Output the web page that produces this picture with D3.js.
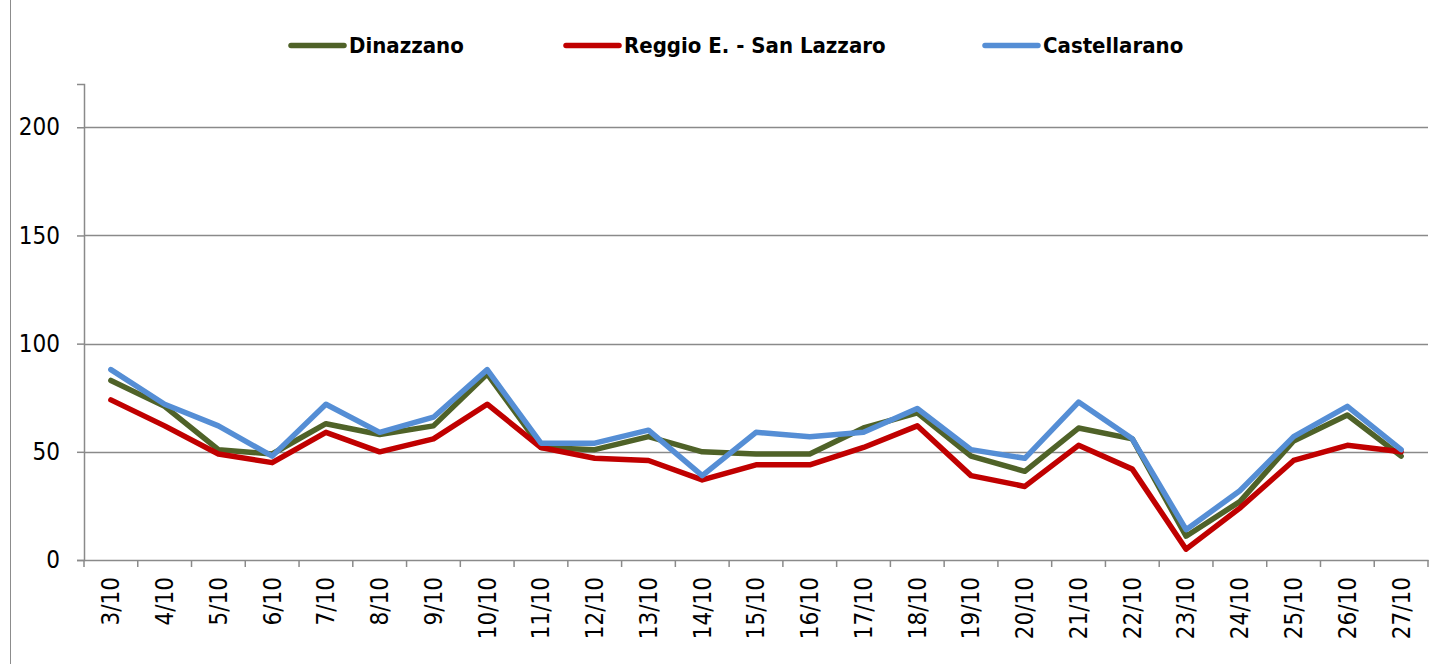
<!DOCTYPE html>
<html><head><meta charset="utf-8">
<script src="https://cdn.jsdelivr.net/npm/d3@7/dist/d3.min.js"></script>
<style>
body{margin:0;background:#fff;}
text{font-family:'DejaVu Sans Condensed','DejaVu Sans',sans-serif;font-stretch:condensed;}
</style></head><body>
<svg id="chart" width="1450" height="664"></svg>
<script>
const categories = ["3/10","4/10","5/10","6/10","7/10","8/10","9/10","10/10","11/10","12/10","13/10","14/10","15/10","16/10","17/10","18/10","19/10","20/10","21/10","22/10","23/10","24/10","25/10","26/10","27/10"];
const dinazzano =     [83,71,51,49,63,58,62,86,52,51,57,50,49,49,61,68,48,41,61,56,11,27,55,67,48];
const reggioSanLazzaro = [74,62,49,45,59,50,56,72,52,47,46,37,44,44,52,62,39,34,53,42,5,24,46,53,50];
const castellarano =  [88,72,62,48,72,59,66,88,54,54,60,39,59,57,59,70,51,47,73,56,14,32,57,71,51];
const seriesNames = ["Dinazzano","Reggio E. - San Lazzaro","Castellarano"];
const seriesColors = ["#4F6228","#C00000","#558ED5"];
const yTicks = [0,50,100,150,200];
const yMax = 220;

(function(){
const series = [dinazzano, reggioSanLazzaro, castellarano];
const svg = d3.select("#chart");
const mLeft = 84, mRight = 1428, mTop = 84, mBottom = 560;

svg.append("line").attr("x1",10.5).attr("x2",10.5).attr("y1",0).attr("y2",664)
  .attr("stroke","#8c8c8c").attr("stroke-width",1);

const x = d3.scaleBand().domain(categories).range([mLeft,mRight]).padding(0);
const y = d3.scaleLinear().domain([0,yMax]).range([mBottom,mTop]);

svg.append("g").selectAll("line").data(yTicks.filter(d=>d>0)).join("line")
  .attr("x1",mLeft).attr("x2",mRight)
  .attr("y1",d=>Math.round(y(d))+0.5).attr("y2",d=>Math.round(y(d))+0.5)
  .attr("stroke","#8a8a8a").attr("stroke-width",1.5);

const yAxis = svg.append("g").attr("transform",`translate(${mLeft},0)`)
  .call(d3.axisLeft(y).tickValues(yTicks).tickSize(7).tickPadding(17));
yAxis.select(".domain").attr("stroke","#8a8a8a").attr("stroke-width",1.5);
yAxis.selectAll(".tick line").attr("stroke","#8a8a8a").attr("stroke-width",1.5);
yAxis.selectAll(".tick text").attr("font-size",24).attr("fill","#000")
  .style("font-family","'DejaVu Sans Condensed','DejaVu Sans',sans-serif");

const xAxis = svg.append("g").attr("transform",`translate(0,${mBottom})`)
  .call(d3.axisBottom(x).tickSize(0).tickSizeOuter(0));
xAxis.select(".domain").attr("stroke","#8a8a8a").attr("stroke-width",1.5);
xAxis.selectAll(".tick text")
  .attr("font-size",24).attr("fill","#000")
  .style("font-family","'DejaVu Sans Condensed','DejaVu Sans',sans-serif")
  .attr("text-anchor","end")
  .attr("transform","rotate(-90)")
  .attr("x",-17).attr("y",0).attr("dy","0.35em");
const boundaries = categories.map(c=>x(c)).concat([x(categories[categories.length-1])+x.bandwidth()]);
svg.append("g").selectAll("line").data(boundaries).join("line")
  .attr("x1",d=>d).attr("x2",d=>d).attr("y1",mBottom).attr("y2",mBottom+7)
  .attr("stroke","#8a8a8a").attr("stroke-width",1.5);

const line = d3.line().x((d,i)=>x(categories[i])+x.bandwidth()/2).y(d=>y(d));
series.forEach((s,k)=>{
  svg.append("path").datum(s).attr("d",line)
    .attr("fill","none").attr("stroke",seriesColors[k]).attr("stroke-width",5.5)
    .attr("stroke-linejoin","round").attr("stroke-linecap","round");
});

const legendX = [291,566,985];
const lg = svg.append("g");
seriesNames.forEach((n,k)=>{
  lg.append("line").attr("x1",legendX[k]).attr("x2",legendX[k]+53)
    .attr("y1",45.5).attr("y2",45.5).attr("stroke",seriesColors[k])
    .attr("stroke-width",5.5).attr("stroke-linecap","round");
  lg.append("text").attr("x",legendX[k]+58).attr("y",53)
    .attr("font-size",22).attr("font-weight","bold").attr("fill","#000").text(n);
});
})();
</script>
</body></html>
